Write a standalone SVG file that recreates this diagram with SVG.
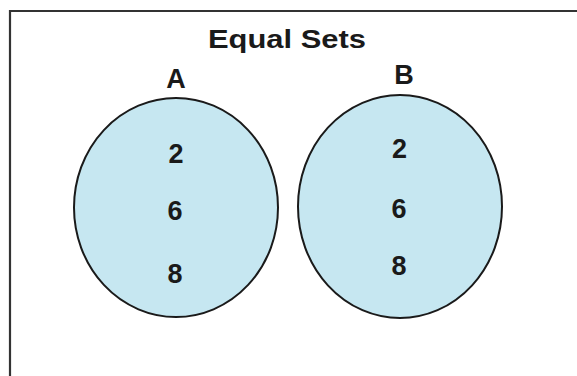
<svg xmlns="http://www.w3.org/2000/svg" width="577" height="376" viewBox="0 0 577 376">
<style>
.frame{fill:none;stroke:#333;stroke-width:2.2}
.set{fill:#c6e7f1;stroke:#1a1a1a;stroke-width:2}
.t{font-family:"Liberation Sans",Arial,sans-serif;font-weight:bold;fill:#1a1a1a;text-anchor:middle}
.title{font-size:25px}
.lbl{font-size:27px}
.num{font-size:27px}
</style>
<rect width="577" height="376" fill="#fff"/>
<path class="frame" d="M10,376 V11 H577"/>
<text class="t title" x="287" y="48" textLength="158" lengthAdjust="spacingAndGlyphs">Equal Sets</text>
<g id="setA">
<text class="t lbl" x="176" y="88">A</text>
<ellipse class="set" cx="176" cy="207.5" rx="102" ry="109.5"/>
<text class="t num" x="176" y="163">2</text>
<text class="t num" x="175" y="220">6</text>
<text class="t num" x="175" y="283">8</text>
</g>
<g id="setB">
<text class="t lbl" x="404" y="84">B</text>
<ellipse class="set" cx="400" cy="206.5" rx="102" ry="111.5"/>
<text class="t num" x="399.5" y="158">2</text>
<text class="t num" x="399" y="218">6</text>
<text class="t num" x="399" y="275">8</text>
</g>
</svg>
